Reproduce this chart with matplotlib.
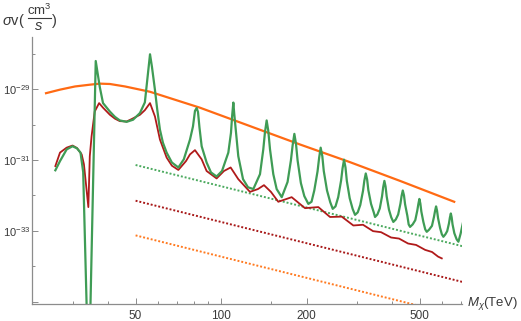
import numpy as np
import matplotlib
matplotlib.use("Agg")
from matplotlib import pyplot as plt
from matplotlib.lines import Line2D
from matplotlib.ticker import FixedLocator, NullFormatter

## data (M in TeV, log10 of sigma v in cm^3/s)
green_M = [26.1, 27.1, 28.6, 30.0, 31.1, 32.0, 32.7, 34.2, 36.2, 37.4, 38.4, 40.6, 42.3, 44.0,
           46.5, 49.0, 51.8, 53.9, 55.2, 56.2, 57.1, 58.5, 59.6, 60.9, 62.4, 64.3, 67.1, 70.7,
           73.9, 77.7, 79.6, 80.9, 82.0, 82.9, 83.9, 85.4, 88.9, 92.1, 96.4, 100.7, 106.0, 108.3,
           109.4, 110.4, 111.2, 112.3, 114.9, 119.4, 124.3, 129.8,
           137.0, 140.7, 142.6, 144.6, 146.5, 148.6, 152.6, 156.8, 163.4,
           171.3, 176.0, 178.5, 181.0, 183.4, 185.8, 190.8, 196.2, 202.7, 208.0,
           212.7, 218.4, 221.2, 224.0, 227.0, 229.7, 235.8, 242.0, 247.0, 252.6,
           258.2, 264.3, 267.4, 270.7, 273.9, 276.9, 283.4, 290.2, 295.9, 302.4,
           308.8, 315.7, 319.0, 322.8, 326.4, 329.6, 336.9, 344.4, 348.0, 354.6,
           361.6, 368.4, 371.7, 375.4, 379.0, 382.4, 389.5, 396.8, 403.6, 411.7,
           419.7, 427.6, 431.4, 435.7, 440.0, 443.9, 452.2, 457.0, 462.2, 472.0,
           482.1, 490.0, 494.4, 498.4, 502.4, 506.5, 514.8, 522.6, 529.1, 539.0,
           551.9, 560.9, 565.9, 570.6, 575.1, 579.8, 589.4, 598.0, 605.4, 615.3,
           624.4, 633.5, 638.1, 643.1, 647.4, 652.1, 661.7, 674.0, 683.8, 696.2, 710.6]
green_logsv = [-31.29, -31.03, -30.70, -30.61, -30.67, -30.79, -31.34, -37.40, -28.20, -28.93,
               -29.39, -29.63, -29.78, -29.88, -29.92, -29.86, -29.67, -29.37, -28.60, -28.01,
               -28.37, -29.02, -29.58, -30.14, -30.51, -30.79, -31.07, -31.21, -30.98, -30.42,
               -30.05, -29.61, -29.53, -29.64, -30.08, -30.61, -31.07, -31.35, -31.465, -31.31,
               -30.79, -30.23, -29.72, -29.375, -29.69, -30.05, -30.89, -31.54, -31.77, -31.82,
               -31.40, -30.70, -30.22, -29.88, -30.17, -30.70, -31.40, -31.82, -32.05,
               -31.62, -31.01, -30.58, -30.26, -30.54, -31.01, -31.65, -32.02, -32.24, -32.18,
               -31.86, -31.32, -30.94, -30.65, -30.89, -31.31, -31.86, -32.19, -32.38, -32.31,
               -32.05, -31.58, -31.24, -30.99, -31.21, -31.59, -32.08, -32.38, -32.55, -32.48,
               -32.27, -31.87, -31.59, -31.38, -31.55, -31.85, -32.24, -32.48, -32.61, -32.54,
               -32.37, -32.02, -31.77, -31.59, -31.75, -32.03, -32.40, -32.62, -32.75, -32.68,
               -32.54, -32.23, -32.02, -31.86, -32.00, -32.25, -32.58, -32.82, -32.89, -32.82,
               -32.70, -32.43, -32.24, -32.10, -32.23, -32.46, -32.75, -32.96, -33.03, -32.97,
               -32.86, -32.61, -32.44, -32.31, -32.43, -32.64, -32.92, -33.10, -33.17, -33.10,
               -33.01, -32.79, -32.63, -32.51, -32.62, -32.82, -33.07, -33.24, -33.31, -33.08,
               -32.745]

red_M = [26.1, 27.1, 28.6, 30.0, 31.1, 32.3, 32.9, 33.4, 34.1, 34.5, 35.0, 35.9, 37.2, 38.4,
         40.6, 42.3, 44.0, 46.5, 48.5, 51.8, 53.9, 56.2, 58.5, 60.9, 64.3, 67.1, 70.7, 75.2,
         77.7, 80.9, 85.4, 88.9, 96.4, 102.3, 108.0, 114.9, 126.3, 134.8, 141.5, 149.7, 158.9,
         177.1, 197.3, 219.8, 241.6, 265.7, 291.9, 315.7, 342.4, 365.4, 396.2, 422.7, 454.7,
         485.3, 522.2, 552.4, 579.8, 597.6]
red_logsv = [-31.17, -30.79, -30.65, -30.59, -30.66, -30.84, -31.12, -31.63, -32.33, -30.89,
             -30.33, -29.63, -29.39, -29.52, -29.72, -29.83, -29.90, -29.91, -29.84, -29.72,
             -29.59, -29.39, -29.77, -30.42, -30.93, -31.16, -31.28, -31.03, -30.84, -30.72,
             -30.98, -31.31, -31.52, -31.31, -31.21, -31.54, -31.90, -31.82, -31.71, -31.90,
             -32.18, -32.05, -32.36, -32.33, -32.61, -32.60, -32.85, -32.83, -33.01, -33.04,
             -33.19, -33.22, -33.36, -33.40, -33.54, -33.60, -33.73, -33.78]

orange_M = [24.2, 27.1, 30.6, 34.5, 37.4, 40.6, 45.9, 56.2, 84.2, 126.3, 189.4, 284.1, 426.2, 660.9]
orange_logsv = [-29.11, -29.01, -28.92, -28.87, -28.84, -28.85, -28.92, -29.07, -29.52, -30.04,
                -30.56, -31.06, -31.59, -32.18]

# straight reference lines (dotted)
line_M = [50, 710]
green_line_logsv = [-31.14, -33.44]
red_line_logsv = [-32.15, -34.45]
orange_line_logsv = [-33.13, -35.43]

x_major = [50, 100, 200, 500]
x_minor = [30, 40, 60, 70, 80, 90, 150, 300, 400, 600, 700]

plt.rcParams['font.family'] = ['Liberation Sans', 'DejaVu Sans']
plt.rcParams['mathtext.fontset'] = 'custom'
plt.rcParams['mathtext.rm'] = 'Liberation Sans'
plt.rcParams['mathtext.it'] = 'Liberation Sans:italic'

c_orange = '#ff6a13'
c_red = '#b01a1a'
c_green = '#3f9c55'
axis_col = '#8c8c8c'
text_col = '#3a3a3a'

fig = plt.figure(figsize=(5.21, 3.21), dpi=100)
ax = fig.add_axes([32/521, 1-304/321, (462-32)/521, (304-37.3)/321])

ax.plot(orange_M, np.power(10.0, orange_logsv), color=c_orange, lw=1.6)
ax.plot(line_M, np.power(10.0, green_line_logsv), color='#4caa5f', lw=1.4, ls=(0, (1, 1)))
ax.plot(line_M, np.power(10.0, red_line_logsv), color='#a81818', lw=1.4, ls=(0, (1, 1)))
ax.plot(line_M, np.power(10.0, orange_line_logsv), color='#ff7a20', lw=1.4, ls=(0, (1, 1)))
ax.plot(red_M, np.power(10.0, red_logsv), color=c_red, lw=1.3)
ax.plot(green_M, np.power(10.0, green_logsv), color=c_green, lw=1.6)

ax.set_xscale('log')
ax.set_yscale('log')
ax.set_xlim(21.6, 704)
ax.set_ylim(10**-35.07, 10**-27.53)

ax.xaxis.set_major_locator(FixedLocator(x_major))
ax.xaxis.set_minor_locator(FixedLocator(x_minor))
ax.set_xticklabels([str(v) for v in x_major])
ax.xaxis.set_minor_formatter(NullFormatter())

ax.yaxis.set_major_locator(FixedLocator([1e-35, 1e-33, 1e-31, 1e-29]))
ax.yaxis.set_minor_locator(FixedLocator([1e-34, 1e-32, 1e-30, 1e-28]))
ax.set_yticklabels(['', r'$10^{-33}$', r'$10^{-31}$', r'$10^{-29}$'])
ax.yaxis.set_minor_formatter(NullFormatter())

for s in ['top', 'right']:
    ax.spines[s].set_visible(False)
for s in ['left', 'bottom']:
    ax.spines[s].set_color(axis_col)
    ax.spines[s].set_linewidth(0.9)

ax.tick_params(which='both', direction='in', color=axis_col, width=0.7, labelcolor=text_col)
ax.tick_params(which='major', length=4.5)
ax.tick_params(which='minor', length=2.5)
ax.tick_params(axis='x', labelsize=8.5, pad=4)
ax.tick_params(axis='y', labelsize=8, pad=1.5)

# y label: sigma v (cm^3 / s) drawn as a stacked fraction
W, H = 521, 321
fig.text(2/W, 1-21/H, r'$\sigma$v(', fontsize=10.5, color=text_col, va='center', ha='left')
fig.text(39/W, 1-10/H, r'cm$^3$', fontsize=9.5, color=text_col, va='center', ha='center')
fig.add_artist(Line2D([28/W, 51/W], [1-18/H, 1-18/H], transform=fig.transFigure,
                      color=text_col, lw=0.8))
fig.text(39/W, 1-26.5/H, r'$s$', fontsize=10.5, color=text_col, va='center', ha='center')
fig.text(51.5/W, 1-21/H, ')', fontsize=10.5, color=text_col, va='center', ha='left')

fig.text(467/W, 1-304/H, r'$M_\chi$(TeV)', fontsize=9.5, color=text_col,
         va='center', ha='left')

fig.savefig('out.png', dpi=100)
